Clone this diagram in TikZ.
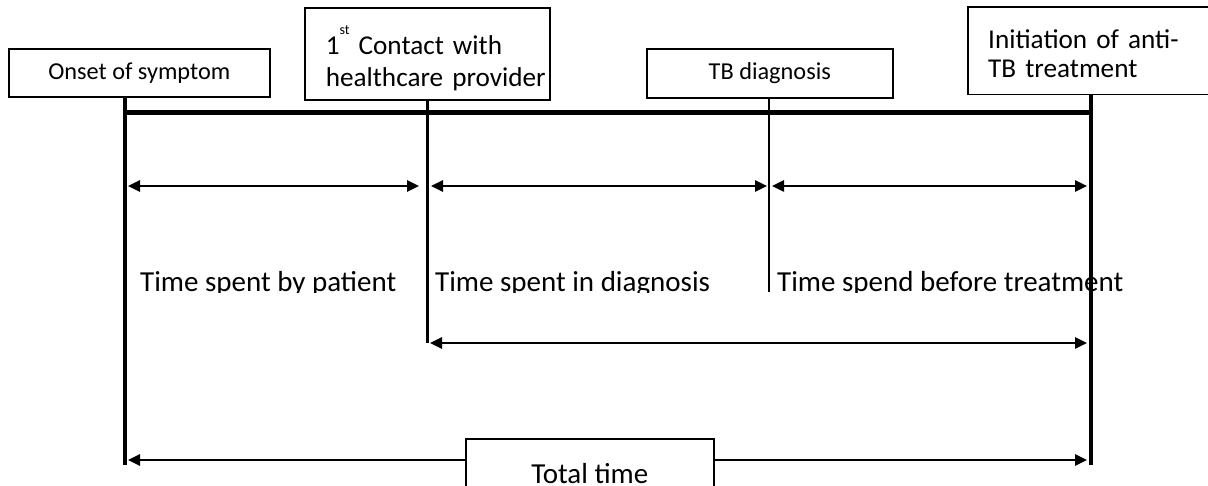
\documentclass[tikz,border=0pt]{standalone}
\usepackage{fontspec}
\setmainfont{Carlito}
\usetikzlibrary{arrows.meta,calc}
\begin{document}
\begin{tikzpicture}[x=1pt,y=-1pt,
  box/.style={draw=black,line width=1.6pt,fill=white},
  smalltext/.style={font=\fontsize{24.3}{28}\selectfont},
  lbl/.style={font=\fontsize{29}{34}\selectfont,anchor=base west,inner sep=0pt},
  heavyline/.style={line width=4.5pt},
  midline/.style={line width=3pt},
  thinline/.style={line width=2.6pt},
  boxedge/.style={line width=1.6pt},
  arr/.style={line width=2.5pt,{Triangle[length=12pt,width=11pt]}-{Triangle[length=12pt,width=11pt]}},
  arrone/.style={line width=2.5pt,-{Triangle[length=12pt,width=11pt]}}
]
\useasboundingbox (0,0) rectangle (1208,486);
\clip (0,0) rectangle (1208,486);

% time points
\coordinate (A) at (125,465);
\coordinate (B) at (427,343);
\coordinate (C) at (769,292);
\coordinate (D) at (1091,465);
\coordinate (H) at (0,113);
\coordinate (R1) at (0,186);
\coordinate (R2) at (0,343);
\coordinate (R3) at (0,460);

% labels (clipped at bottom)
\begin{scope}
\clip (0,0) rectangle (1208,293);
\node[lbl] (l1) at (140,292) {Time spent by patient};
\node[lbl] (l2) at (435,292) {Time spent in diagnosis};
\node[lbl] (l3) at (777,292) {Time spend before treatment};
\end{scope}

% boxes
\node[box,smalltext,minimum width=261pt,minimum height=48pt,inner sep=0pt,anchor=north west] (b1) at (8,48) {Onset of symptom};
\node[box,font=\fontsize{27.2}{32}\selectfont,text width=203pt,inner xsep=21pt,minimum height=92pt,align=left,anchor=north west] (b2) at (304,7)
  {\mbox{\rule{0pt}{37.7pt}1\raisebox{0.74em}{\fontsize{14}{14}\selectfont st}\ Contact with}\\\mbox{healthcare provider}};
\node[box,smalltext,minimum width=246pt,minimum height=49pt,inner sep=0pt,anchor=north west] (b3) at (646,48) {TB diagnosis};
\node[fill=white,font=\fontsize{27.2}{29}\selectfont,text width=260pt,inner xsep=20pt,minimum height=87pt,align=left,anchor=north west] (b4) at (968,7)
  {\mbox{\rule{0pt}{24pt}Initiation of anti-}\\\mbox{TB treatment}};
\draw[boxedge] (b4.north east) -- (b4.north west) -- (b4.south west) -- (b4.south east);
\node[box,font=\fontsize{29}{34}\selectfont,minimum width=248pt,minimum height=70pt,inner sep=0pt,anchor=north west] (tt) at (465,438) {Total time};

% timeline
\draw[heavyline] (b1.south -| A) -- (A);
\draw[midline] (b2.south -| B) -- (B);
\draw[thinline] (b3.south -| C) -- (C);
\draw[heavyline] (b4.south -| D) -- (D);
\draw[line width=5pt] (A |- H) -- (D |- H);

% durations
\draw[arr] ($(A |- R1)+(3,0)$) -- ($(B |- R1)+(-8,0)$);
\draw[arr] ($(B |- R1)+(4,0)$) -- ($(C |- R1)+(-2,0)$);
\draw[arr] ($(C |- R1)+(3,0)$) -- ($(D |- R1)+(-4,0)$);
\draw[arr] ($(B |- R2)+(3,0)$) -- ($(D |- R2)+(-4,0)$);
\draw[arrone] (tt.west |- R3) -- ($(A |- R3)+(3,0)$);
\draw[arrone] (tt.east |- R3) -- ($(D |- R3)+(-4,0)$);
\end{tikzpicture}
\end{document}
